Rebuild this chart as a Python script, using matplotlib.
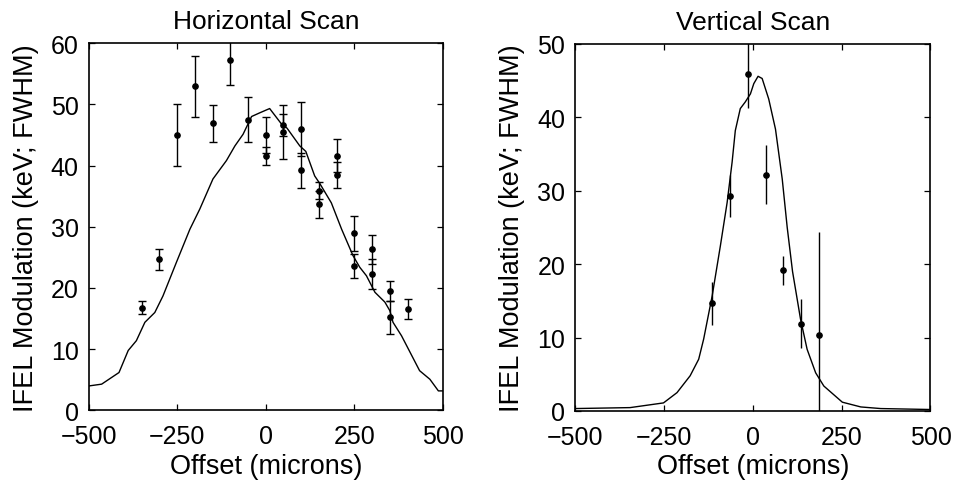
import matplotlib
matplotlib.use("Agg")
import matplotlib.pyplot as plt

# ---------------------------------------------------------------------------
# Data
# ---------------------------------------------------------------------------

# Horizontal scan: simulated curve
h_curve_x = [-500, -463, -414, -388, -365, -341, -313, -290, -252, -214, -186,
             -149, -111, -87, -64, -40, -17, 11, 44, 60, 96, 113, 138, 152,
             185, 214, 246, 265, 284, 308, 336, 350, 359, 383, 434, 463, 487, 500]
h_curve_y = [4.0, 4.3, 6.2, 9.8, 11.4, 14.4, 16.0, 18.7, 24.2, 29.6, 32.9,
             37.8, 40.8, 43.2, 45.1, 48.0, 48.6, 49.3, 46.8, 46.1, 43.2, 42.3,
             38.3, 37.1, 33.9, 29.6, 25.3, 23.4, 22.0, 19.3, 17.7, 16.3, 14.4,
             12.2, 6.5, 5.1, 3.2, 3.2]

# Horizontal scan: measured points
h_pts_x = [-350, -300, -250, -200, -150, -100, -50, 0, 0, 50, 50, 100, 100,
           150, 150, 200, 200, 250, 250, 300, 300, 350, 350, 400]
h_pts_y = [16.8, 24.7, 45.0, 52.9, 46.9, 57.3, 47.5, 45.0, 41.6, 46.6, 45.4,
           45.9, 39.2, 35.9, 33.7, 41.6, 38.5, 28.9, 23.6, 26.3, 22.3, 19.5,
           15.2, 16.6]
h_pts_err = [1.0, 1.7, 5.0, 4.9, 3.0, 4.2, 3.7, 3.0, 1.5, 1.8, 4.4, 4.4, 2.8,
             1.4, 2.2, 2.7, 2.1, 2.8, 2.0, 2.4, 2.4, 1.7, 2.7, 1.6]

# Vertical scan: simulated curve
v_curve_x = [-500, -345, -251, -213, -176, -152, -138, -114, -91, -72, -58,
             -49, -35, -21, -6.5, 3, 15, 26.5, 45, 64, 83, 97, 112, 134.5,
             153, 177, 200, 252, 304, 360, 500]
v_curve_y = [0.33, 0.46, 1.1, 2.5, 4.8, 7.05, 9.8, 15.7, 22.5, 28.4, 33.9,
             38.2, 41.2, 42.1, 43.2, 44.6, 45.6, 45.3, 42.5, 38.4, 31.6, 25.0,
             19.0, 12.5, 8.4, 5.2, 3.4, 1.2, 0.55, 0.33, 0.2]

# Vertical scan: measured points
v_pts_x = [-114, -64, -14, 36, 86, 136, 186]
v_pts_y = [14.65, 29.25, 45.9, 32.2, 19.15, 11.9, 10.4]
v_pts_err = [2.95, 2.85, 4.6, 4.0, 2.0, 3.3, 14.0]

x_ticks = [-500, -250, 0, 250, 500]

# ---------------------------------------------------------------------------
# Plot
# ---------------------------------------------------------------------------

plt.rcParams["font.family"] = ["Liberation Sans", "DejaVu Sans"]

fig = plt.figure(figsize=(9.57, 4.89), dpi=100)
ax1 = fig.add_axes([0.0925, 0.1585, 0.3704, 0.7515])
ax2 = fig.add_axes([0.6008, 0.1575, 0.3715, 0.7505])


def style_axes(ax, ymax, title):
    ax.set_xlim(-500, 500)
    ax.set_ylim(0, ymax)
    ax.set_xticks(x_ticks)
    ax.set_yticks(range(0, ymax + 1, 10))
    ax.tick_params(direction="in", top=True, right=True, length=4, width=0.9,
                   labelsize=18)
    ax.tick_params(axis="x", pad=10)
    ax.tick_params(axis="y", pad=7)
    for sp in ax.spines.values():
        sp.set_linewidth(1.2)
    ax.set_xlabel("Offset (microns)", fontsize=19.5, labelpad=3)
    ax.set_ylabel("IFEL Modulation (keV; FWHM)", fontsize=19.5)
    ax.yaxis.set_label_coords(-0.14, 0.5)
    ax.set_title(title, fontsize=19, pad=11)


ax1.plot(h_curve_x, h_curve_y, color="black", lw=1.0)
ax1.errorbar(h_pts_x, h_pts_y, yerr=h_pts_err, fmt="o", color="black",
             ms=3.8, elinewidth=1.0, capsize=3, capthick=1.0)
style_axes(ax1, 60, "Horizontal Scan")

ax2.plot(v_curve_x, v_curve_y, color="black", lw=1.0)
ax2.errorbar(v_pts_x, v_pts_y, yerr=v_pts_err, fmt="o", color="black",
             ms=3.8, elinewidth=1.0, capsize=0)
style_axes(ax2, 50, "Vertical Scan")

fig.savefig("out.png", dpi=100)
